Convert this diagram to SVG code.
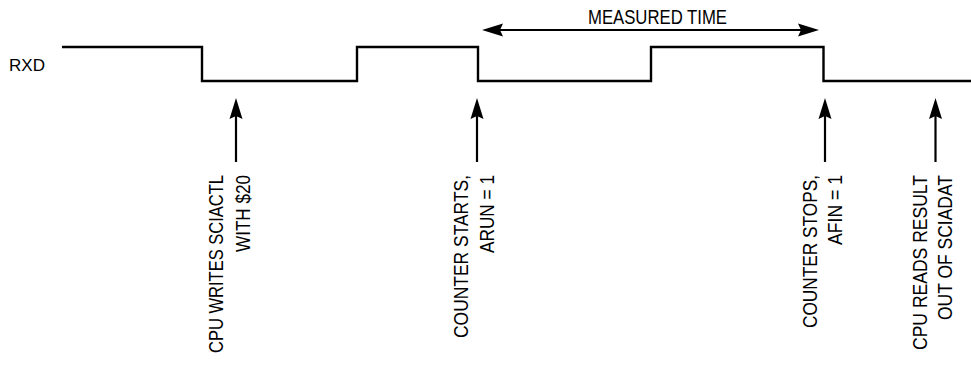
<svg xmlns="http://www.w3.org/2000/svg" width="971" height="367" viewBox="0 0 971 367">
<style>
.t{font-family:"Liberation Sans",Arial,Helvetica,sans-serif;font-size:20px;fill:#000}
.w{fill:none;stroke:#000;stroke-width:2.4;stroke-linejoin:miter}
.c{fill:none;stroke:#000;stroke-width:2.2}
</style>
<defs>
<marker id="ah" markerUnits="userSpaceOnUse" viewBox="-6 -8 24 16" refX="0" refY="0" markerWidth="24" markerHeight="16" orient="auto-start-reverse">
<path d="M16,0 L-5,-6.5 L-2,0 L-5,6.5 Z" fill="#000"/>
</marker>
</defs>
<rect width="971" height="367" fill="#fff"/>
<g id="rxd-label"><text class="t" x="9" y="70.5" font-size="17" textLength="36" lengthAdjust="spacingAndGlyphs" style="font-size:17px">RXD</text></g>
<g id="connectors">
<path id="rxd-wave" class="w" d="M62,47 H202 V81 H357 V47 H478 V81 H651 V47 H823.5 V81 H971"/>
<line id="measured-arrow" class="c" x1="498" y1="30" x2="803" y2="30" marker-start="url(#ah)" marker-end="url(#ah)"/>
<line class="c" x1="236" y1="162" x2="236" y2="114" marker-end="url(#ah)"/>
<line class="c" x1="477" y1="162" x2="477" y2="114" marker-end="url(#ah)"/>
<line class="c" x1="825" y1="162" x2="825" y2="114" marker-end="url(#ah)"/>
<line class="c" x1="935.5" y1="162" x2="935.5" y2="114" marker-end="url(#ah)"/>
</g>
<g id="measured-time"><text class="t" x="588" y="24" textLength="139" lengthAdjust="spacingAndGlyphs">MEASURED TIME</text></g>
<g id="cpu-writes">
<text class="t" transform="translate(223,175) rotate(-90)" text-anchor="end" textLength="178" lengthAdjust="spacingAndGlyphs">CPU WRITES SCIACTL</text>
<text class="t" transform="translate(250,175) rotate(-90)" text-anchor="end" textLength="77" lengthAdjust="spacingAndGlyphs">WITH $20</text>
</g>
<g id="counter-starts">
<text class="t" transform="translate(468,175) rotate(-90)" text-anchor="end" textLength="163" lengthAdjust="spacingAndGlyphs">COUNTER STARTS,</text>
<text class="t" transform="translate(494,175) rotate(-90)" text-anchor="end" textLength="78" lengthAdjust="spacingAndGlyphs">ARUN = 1</text>
</g>
<g id="counter-stops">
<text class="t" transform="translate(817,175) rotate(-90)" text-anchor="end" textLength="153" lengthAdjust="spacingAndGlyphs">COUNTER STOPS,</text>
<text class="t" transform="translate(842,175) rotate(-90)" text-anchor="end" textLength="70" lengthAdjust="spacingAndGlyphs">AFIN = 1</text>
</g>
<g id="cpu-reads">
<text class="t" transform="translate(927,175) rotate(-90)" text-anchor="end" textLength="175" lengthAdjust="spacingAndGlyphs">CPU READS RESULT</text>
<text class="t" transform="translate(952,175) rotate(-90)" text-anchor="end" textLength="145" lengthAdjust="spacingAndGlyphs">OUT OF SCIADAT</text>
</g>
</svg>
